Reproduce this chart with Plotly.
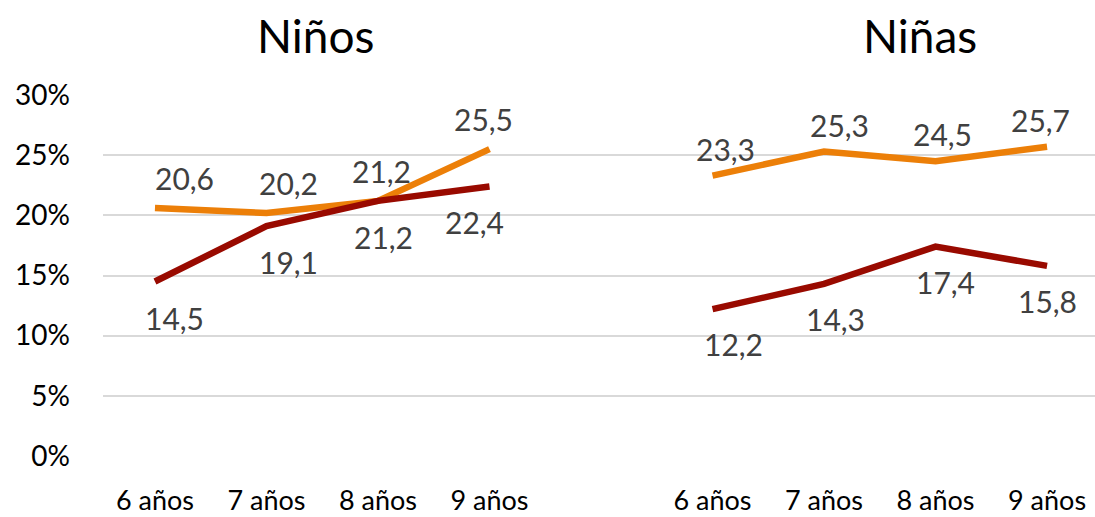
import plotly.graph_objects as go

# data (percent)
edades = ["6 años", "7 años", "8 años", "9 años"]
ninos_naranja = [20.6, 20.2, 21.2, 25.5]
ninos_rojo = [14.5, 19.1, 21.2, 22.4]
ninas_naranja = [23.3, 25.3, 24.5, 25.7]
ninas_rojo = [12.2, 14.3, 17.4, 15.8]
y_ticks = [0, 5, 10, 15, 20, 25, 30]

NARANJA = "#EC7F08"
ROJO = "#990A00"
FONT = "Lato"

# both panels share one category axis, with an empty slot between groups
x_ninos = [0, 1, 2, 3]
x_ninas = [5, 6, 7, 8]

fig = go.Figure()
for xs, ys, color in [(x_ninos, ninos_naranja, NARANJA), (x_ninos, ninos_rojo, ROJO),
                      (x_ninas, ninas_naranja, NARANJA), (x_ninas, ninas_rojo, ROJO)]:
    fig.add_trace(go.Scatter(x=xs, y=ys, mode="lines",
                             line=dict(color=color, width=6.5), hoverinfo="skip",
                             showlegend=False))

# data labels: orange above, red below (nudged like the original)
label_style = [
    (x_ninos, ninos_naranja, 30, [30, 22, 4, -6]),
    (x_ninos, ninos_rojo, -36, [20, 22, 6, -15]),
    (x_ninas, ninas_naranja, 27, [13, 15, 7, -7]),
    (x_ninas, ninas_rojo, -35, [21, 11, 10, 0]),
]
annotations = []
for xs, ys, dy, dxs in label_style:
    for x, y, dx in zip(xs, ys, dxs):
        annotations.append(dict(
            x=x, y=y, text=f"{y:.1f}".replace(".", ","), showarrow=False,
            xshift=dx, yshift=dy, font=dict(family=FONT, size=30, color="#404040")))

for text, px in [("Niños", 0.214), ("Niñas", 0.824)]:
    annotations.append(dict(
        x=px, y=1.166, xref="paper", yref="paper", text=text, showarrow=False,
        xanchor="center", yanchor="middle",
        font=dict(family=FONT, size=46, color="#000000")))

fig.update_layout(
    width=1095, height=517,
    margin=dict(l=103, r=0, t=95, b=61),
    paper_bgcolor="white", plot_bgcolor="white",
    annotations=annotations,
    font=dict(family=FONT),
)
fig.update_xaxes(
    range=[-0.466, 8.43], tickvals=x_ninos + x_ninas, ticktext=edades + edades,
    showgrid=False, zeroline=False, showline=False, ticks="",
    tickfont=dict(family=FONT, size=27, color="#000000"), ticklabelstandoff=26,
)
fig.update_yaxes(
    range=[0, 30], tickvals=y_ticks, ticktext=[f"{v}%" for v in y_ticks],
    showgrid=True, gridcolor="#D9D9D9", gridwidth=2, zeroline=False, showline=False,
    ticks="", tickfont=dict(family=FONT, size=28, color="#000000"), ticklabelstandoff=32,
)

# drop the default page margin so the figure sits flush in the window
fig.write_html("out.html", config={"displayModeBar": False},
               post_script="document.body.style.margin='0';")
